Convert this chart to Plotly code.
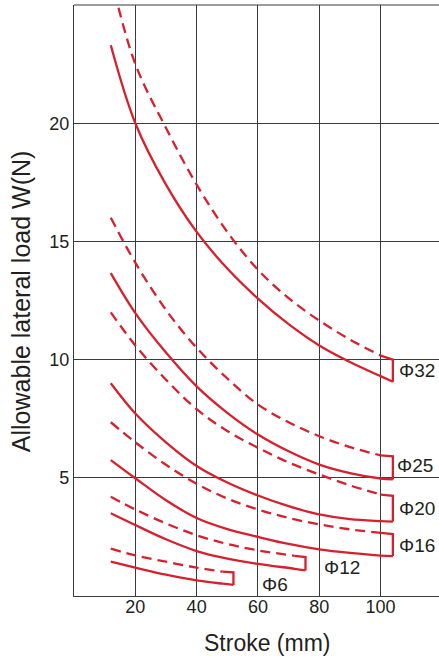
import plotly.graph_objects as go

# ---- data ----
x_ticks = [20, 40, 60, 80, 100]
y_ticks = [5, 10, 15, 20]

labels = ["Φ32", "Φ25", "Φ20", "Φ16", "Φ12", "Φ6"]

stroke_big = [12, 20, 30, 40, 50, 60, 70, 80, 90, 100, 104]

dashed_32 = [26.2, 22.5, 19.8, 17.4, 15.4, 13.8, 12.6, 11.65, 10.85, 10.17, 10.0]
solid_32 = [23.3, 20.0, 17.4, 15.4, 13.85, 12.58, 11.5, 10.6, 9.9, 9.3, 9.06]

dashed_25 = [16.0, 14.1, 12.1, 10.5, 9.2, 8.1, 7.35, 6.76, 6.3, 5.95, 5.91]
solid_25 = [13.66, 11.97, 10.3, 8.87, 7.75, 6.83, 6.12, 5.56, 5.2, 4.97, 4.93]

dashed_20 = [12.0, 10.6, 9.15, 7.9, 6.98, 6.27, 5.65, 5.14, 4.68, 4.29, 4.24]
solid_20 = [9.0, 7.72, 6.5, 5.5, 4.8, 4.25, 3.8, 3.45, 3.25, 3.17, 3.15]

dashed_16 = [7.35, 6.5, 5.55, 4.75, 4.12, 3.66, 3.3, 3.03, 2.82, 2.67, 2.62]
solid_16 = [5.75, 4.98, 4.05, 3.3, 2.83, 2.5, 2.2, 1.97, 1.82, 1.71, 1.69]

stroke_12 = [12, 20, 30, 40, 50, 60, 72, 75.5]
dashed_12 = [4.2, 3.66, 3.07, 2.57, 2.2, 1.93, 1.70, 1.65]
solid_12 = [3.5, 3.0, 2.4, 1.9, 1.58, 1.36, 1.15, 1.08]

stroke_6 = [12, 20, 30, 40, 48.5, 52]
dashed_6 = [2.0, 1.72, 1.45, 1.2, 1.03, 1.0]
solid_6 = [1.45, 1.2, 0.9, 0.66, 0.52, 0.47]

label_x = [105.3, 104.8, 105.3, 105.3, 81.0, 60.6]
label_y = [9.53, 5.52, 3.70, 2.14, 1.21, 0.49]

series = [
    (stroke_big, dashed_32, solid_32),
    (stroke_big, dashed_25, solid_25),
    (stroke_big, dashed_20, solid_20),
    (stroke_big, dashed_16, solid_16),
    (stroke_12, dashed_12, solid_12),
    (stroke_6, dashed_6, solid_6),
]

RED = "#d7202e"
INK = "#231f20"
GRID = "#3a3a3a"
FONT = "Liberation Sans, Arial, sans-serif"

fig = go.Figure()
for xs, ds, ss in series:
    # dashed curve (up to the start of the end bracket)
    fig.add_trace(go.Scatter(
        x=xs[:-1], y=ds[:-1], mode="lines",
        line=dict(color=RED, width=2.3, dash="10px,6px", shape="spline"),
        showlegend=False, hoverinfo="skip"))
    # solid curve
    fig.add_trace(go.Scatter(
        x=xs, y=ss, mode="lines",
        line=dict(color=RED, width=2.3, shape="spline"),
        showlegend=False, hoverinfo="skip"))
    # end bracket
    fig.add_trace(go.Scatter(
        x=[xs[-2], xs[-1], xs[-1]], y=[ds[-2], ds[-1], ss[-1]], mode="lines",
        line=dict(color=RED, width=2.3),
        showlegend=False, hoverinfo="skip"))

for lab, lx, ly in zip(labels, label_x, label_y):
    fig.add_annotation(x=lx, y=ly, text=lab, showarrow=False,
                       xanchor="left", yanchor="middle",
                       font=dict(size=19, color=INK, family=FONT))

# axis titles
fig.add_annotation(xref="paper", yref="paper", x=0.529, y=-0.0795,
                   text="Stroke (mm)", showarrow=False,
                   xanchor="center", yanchor="middle",
                   font=dict(size=23, color=INK, family=FONT))
fig.add_annotation(xref="paper", yref="paper", x=-0.145, y=0.499,
                   text="Allowable lateral load W(N)", showarrow=False,
                   textangle=-90, xanchor="center", yanchor="middle",
                   font=dict(size=25, color=INK, family=FONT))

# top border
fig.add_shape(type="line", xref="paper", yref="paper", x0=0, x1=1, y0=1, y1=1,
              line=dict(color=GRID, width=1.2))

fig.update_layout(
    width=439, height=662,
    margin=dict(l=74, r=0, t=5, b=66),
    paper_bgcolor="white", plot_bgcolor="white",
    font=dict(family=FONT, color=INK),
)
fig.update_xaxes(range=[0, 119.05], tickvals=x_ticks, showgrid=True,
                 gridcolor=GRID, gridwidth=1, zeroline=False,
                 showline=True, linecolor=GRID, linewidth=1.2,
                 ticks="", ticklabelstandoff=-6,
                 tickfont=dict(size=18, color=INK, family=FONT))
fig.update_yaxes(range=[0, 25], tickvals=y_ticks, showgrid=True,
                 gridcolor=GRID, gridwidth=1, zeroline=False,
                 showline=True, linecolor=GRID, linewidth=1.2,
                 ticks="", tickfont=dict(size=18, color=INK, family=FONT))

fig.write_html(
    "out.html",
    config={"displayModeBar": False},
    post_script="document.body.style.margin='0px';document.body.style.overflow='hidden';",
)
